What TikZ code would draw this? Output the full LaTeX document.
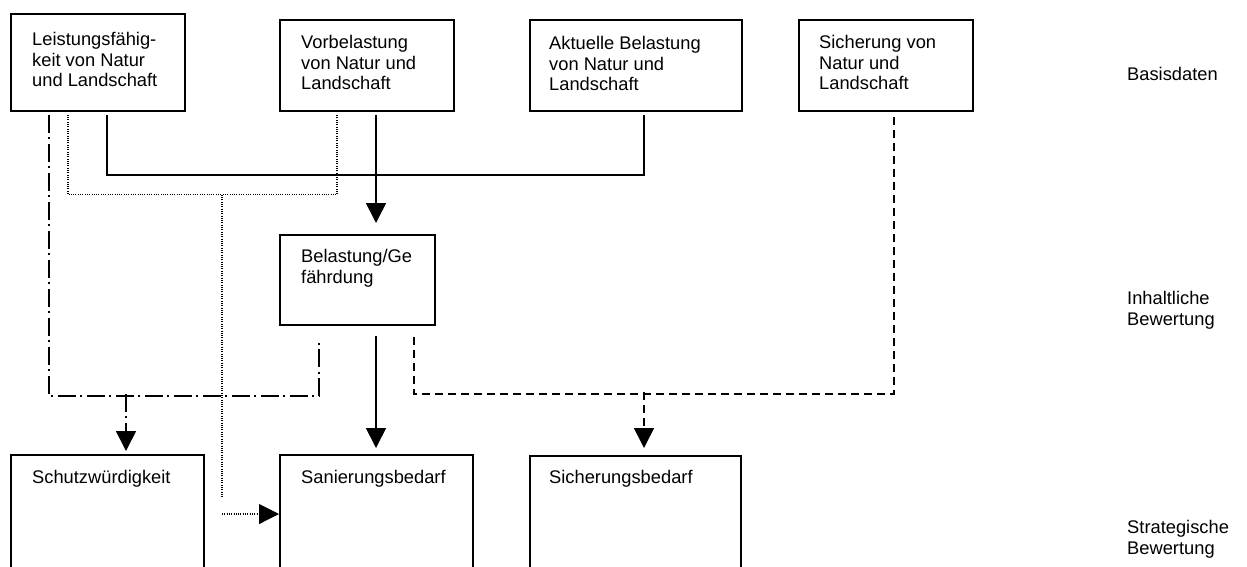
\documentclass[tikz,border=0pt]{standalone}
\usepackage{fontspec}
\setmainfont{Liberation Sans}
\usetikzlibrary{arrows.meta,calc}

\begin{document}
\begin{tikzpicture}[x=1pt,y=-1pt,
  box/.style={draw, line width=1.8pt, rectangle, anchor=north west, inner sep=0pt},
  txt/.style={anchor=north west, inner sep=0pt, align=left, font=\fontsize{18.3}{20.7}\selectfont},
  link/.style={line width=1.6pt},
  tip/.style={-{Triangle[width=20pt,length=20pt]}},
  dashdot/.style={line width=1.6pt, dash pattern=on 18pt off 4pt on 2pt off 5pt},
  dotline/.style={line width=1.1pt, dash pattern=on 1pt off 1.3pt},
  dashline/.style={line width=1.6pt, dash pattern=on 8pt off 5pt}]

\useasboundingbox (0,0) rectangle (1247,566);
\clip (0,0) rectangle (1247,566);

% basic data
\node[box, minimum width=174pt, minimum height=97pt] (lf) at (10,13) {};
\node[box, minimum width=174pt, minimum height=91pt] (vb) at (279,19) {};
\node[box, minimum width=212pt, minimum height=91pt] (ab) at (529,19) {};
\node[box, minimum width=174pt, minimum height=91pt] (sn) at (798,19) {};
\node[txt] (lf-t) at ($(lf.north west)+(22,19)$) {Leistungsfähig-\\keit von Natur\\und Landschaft};
\node[txt] (vb-t) at ($(vb.north west)+(22,16)$) {Vorbelastung\\von Natur und\\Landschaft};
\node[txt] (ab-t) at ($(ab.north west)+(20,17)$) {Aktuelle Belastung\\von Natur und\\Landschaft};
\node[txt] (sn-t) at ($(sn.north west)+(21,16)$) {Sicherung von\\Natur und\\Landschaft};

% assessment of content
\node[box, minimum width=155pt, minimum height=90pt] (bg) at (279,234) {};
\node[txt] (bg-t) at ($(bg.north west)+(22,15)$) {Belastung/Ge\\fährdung};

% strategic assessment (boxes run past the lower edge)
\node[box, minimum width=193pt, minimum height=160pt] (sw) at (10,454) {};
\node[box, minimum width=193pt, minimum height=160pt] (sb) at (279,454) {};
\node[box, minimum width=211pt, minimum height=160pt] (sib) at (529,455) {};
\node[txt] (sw-t) at ($(sw.north west)+(22,16)$) {Schutzwürdigkeit};
\node[txt] (sb-t) at ($(sb.north west)+(22,16)$) {Sanierungsbedarf};
\node[txt] (sib-t) at ($(sib.north west)+(20,15)$) {Sicherungsbedarf};

% level labels
\node[txt] (l1) at (1127,67) {Basisdaten};
\node[txt] (l2) at (1127,291) {Inhaltliche\\Bewertung};
\node[txt] (l3) at (1127,520) {Strategische\\Bewertung};

% solid: current load and capacity feed the load assessment
\draw[link] ($(lf.south west)+(97,3)$) |- ($(ab.south west)+(115,63)$) -- ($(ab.south west)+(115,3)$);
\draw[link,tip] ($(vb.south west)+(97,3)$) -- ($(bg.north west)+(97,-11)$);
\draw[link,tip] ($(bg.south west)+(97,10)$) -- ($(sb.north west)+(97,-6)$);

% dotted: capacity and prior load to remediation need
\draw[dotline] ($(lf.south west)+(58,3)$) |- ($(vb.south west)+(58,83)$) -- ($(vb.south west)+(58,3)$);
\coordinate (dj) at ($(lf.south west)+(212,83)$);
\draw[dotline] (dj) -- ($(sb.north west)+(-57,43)$);
\draw[dotline,tip] ($(sb.north west)+(-57,60)$) -- ($(sb.north west)+(0,60)$);

% dash-dot: capacity and load to protection worthiness
\draw[dashdot] ($(lf.south west)+(39,3)$) |- ($(bg.south west)+(40,70)$) -- ($(bg.south west)+(40,15)$);
\draw[dashdot,tip] ($(sw.north west)+(116,-60)$) -- ($(sw.north west)+(116,-3)$);

% dashed: load and protection status to safeguarding need
\draw[dashline] ($(sn.south west)+(96,5)$) |- ($(bg.south west)+(135,68)$) -- ($(bg.south west)+(135,9)$);
\draw[dashline,tip] ($(sib.north west)+(115,-63)$) -- ($(sib.north west)+(115,-7)$);

\end{tikzpicture}
\end{document}
